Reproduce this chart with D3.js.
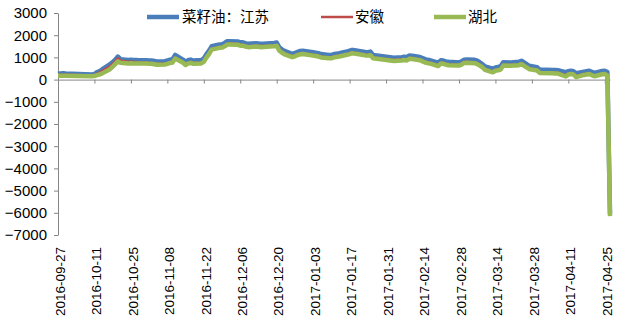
<!DOCTYPE html>
<html><head><meta charset="utf-8">
<script src="https://cdn.jsdelivr.net/npm/d3@7"></script>
<style>
html,body{margin:0;padding:0;background:#fff;}
svg{display:block;}
</style></head>
<body>
<svg id="c" width="617" height="335"></svg>
<script>
const dates = [
"2016-09-27","2016-09-28","2016-09-29","2016-09-30",
"2016-10-10","2016-10-11","2016-10-12","2016-10-13","2016-10-14","2016-10-17","2016-10-18","2016-10-19","2016-10-20","2016-10-21","2016-10-24","2016-10-25","2016-10-26","2016-10-27","2016-10-28","2016-10-31",
"2016-11-01","2016-11-02","2016-11-03","2016-11-04","2016-11-07","2016-11-08","2016-11-09","2016-11-10","2016-11-11","2016-11-14","2016-11-15","2016-11-16","2016-11-17","2016-11-18","2016-11-21","2016-11-22","2016-11-23","2016-11-24","2016-11-25","2016-11-28","2016-11-29","2016-11-30",
"2016-12-01","2016-12-02","2016-12-05","2016-12-06","2016-12-07","2016-12-08","2016-12-09","2016-12-12","2016-12-13","2016-12-14","2016-12-15","2016-12-16","2016-12-19","2016-12-20","2016-12-21","2016-12-22","2016-12-23","2016-12-26","2016-12-27","2016-12-28","2016-12-29","2016-12-30",
"2017-01-03","2017-01-04","2017-01-05","2017-01-06","2017-01-09","2017-01-10","2017-01-11","2017-01-12","2017-01-13","2017-01-16","2017-01-17","2017-01-18","2017-01-19","2017-01-20","2017-01-23","2017-01-24","2017-01-25","2017-01-26",
"2017-02-03","2017-02-06","2017-02-07","2017-02-08","2017-02-09","2017-02-10","2017-02-13","2017-02-14","2017-02-15","2017-02-16","2017-02-17","2017-02-20","2017-02-21","2017-02-22","2017-02-23","2017-02-24","2017-02-27","2017-02-28",
"2017-03-01","2017-03-02","2017-03-03","2017-03-06","2017-03-07","2017-03-08","2017-03-09","2017-03-10","2017-03-13","2017-03-14","2017-03-15","2017-03-16","2017-03-17","2017-03-20","2017-03-21","2017-03-22","2017-03-23","2017-03-24","2017-03-27","2017-03-28","2017-03-29","2017-03-30","2017-03-31",
"2017-04-05","2017-04-06","2017-04-07","2017-04-10","2017-04-11","2017-04-12","2017-04-13","2017-04-14","2017-04-17","2017-04-18","2017-04-19","2017-04-20","2017-04-21","2017-04-24","2017-04-25","2017-04-26","2017-04-27"
];
// 菜籽油：江苏
const jiangsu = [
260,280,290,280,
230,250,340,380,470,690,790,900,1040,920,880,890,880,880,870,870,
860,860,840,820,830,860,900,920,1110,900,810,880,900,860,880,950,1150,1300,1500,1580,1590,1650,
1730,1730,1720,1680,1680,1640,1610,1640,1630,1610,1620,1630,1650,1670,1450,1360,1290,1160,1200,1250,1290,1300,
1230,1210,1190,1150,1110,1110,1150,1170,1190,1270,1300,1340,1320,1300,1240,1230,1260,1110,
990,1010,1030,1010,1090,1080,1020,970,920,890,870,760,870,860,820,800,780,780,
820,900,910,890,850,780,700,590,490,550,570,600,780,770,780,790,800,850,620,600,580,560,450,
435,430,420,330,380,400,380,290,360,380,400,350,300,390,400,340,-6050
];
// 安徽
const anhui = [
210,215,220,215,
190,200,270,320,400,600,700,820,960,850,800,800,790,790,780,770,
750,750,730,710,720,750,790,810,990,800,700,770,790,750,770,840,1030,1190,1390,1470,1480,1540,
1620,1620,1610,1570,1570,1530,1500,1530,1520,1500,1510,1520,1540,1560,1340,1250,1180,1050,1090,1140,1180,1190,
1120,1100,1080,1040,1000,1000,1040,1060,1080,1160,1190,1230,1210,1190,1130,1120,1140,1000,
880,900,920,900,980,970,910,860,810,780,760,650,760,750,710,690,670,670,
710,790,800,780,740,670,590,480,370,440,460,490,670,660,670,680,690,740,510,490,470,450,340,
325,320,310,200,270,290,270,170,250,270,290,240,190,280,290,230,-6100
];
// 湖北
const hubei = [
170,170,175,175,
150,160,200,230,280,470,580,700,820,760,730,740,730,730,720,720,
710,710,690,670,680,710,750,770,950,760,660,730,750,710,730,800,990,1150,1350,1430,1440,1500,
1580,1580,1570,1530,1530,1490,1460,1490,1480,1460,1470,1480,1500,1520,1300,1210,1140,1010,1050,1100,1140,1150,
1080,1060,1040,1000,960,960,1000,1020,1040,1120,1150,1190,1170,1150,1090,1080,1100,960,
840,860,880,860,940,930,870,820,770,740,720,610,720,710,670,650,630,630,
670,750,760,740,700,630,550,440,330,400,420,450,630,620,630,640,650,700,470,450,430,410,300,
285,280,270,140,230,250,230,110,210,230,250,200,150,240,250,190,-6150
];
const seriesNames = ["菜籽油：江苏","安徽","湖北"];
const seriesColors = ["#4a7ebb","#be4b48","#98b954"];
const yTicks = [3000,2000,1000,0,-1000,-2000,-3000,-4000,-5000,-6000,-7000];
const xTickLabels = ["2016-09-27","2016-10-11","2016-10-25","2016-11-08","2016-11-22","2016-12-06","2016-12-20","2017-01-03","2017-01-17","2017-01-31","2017-02-14","2017-02-28","2017-03-14","2017-03-28","2017-04-11","2017-04-25"];

const parse = d3.utcParse("%Y-%m-%d");
const svg = d3.select("#c");
svg.append("rect").attr("width",617).attr("height",335).attr("fill","#fff");

const x = d3.scaleUtc().domain([parse(dates[0]), parse(dates[dates.length-1])]).range([58, 610]);
const y = d3.scaleLinear().domain([-7000, 3000]).range([235, 13]);
const axisColor = "#868686";
const font = "'Liberation Sans', Arial, sans-serif";

// Y axis
const ya = svg.append("g").attr("transform","translate(58,0)")
  .call(d3.axisLeft(y).tickValues(yTicks).tickSize(4).tickSizeOuter(0).tickPadding(7).tickFormat(d3.format("d")));
ya.select(".domain").attr("stroke",axisColor);
ya.selectAll(".tick line").attr("stroke",axisColor);
ya.selectAll(".tick text").attr("fill","#000").style("font-family",font).style("font-size","15px");

// X axis at zero line
const tickDates = xTickLabels.map(parse);
const xa = svg.append("g").attr("transform",`translate(0,${y(0)})`)
  .call(d3.axisBottom(x).tickValues(tickDates).tickSize(4).tickSizeOuter(0).tickFormat(""));
xa.select(".domain").attr("stroke",axisColor);
xa.selectAll(".tick line").attr("stroke",axisColor);

// X labels at bottom
svg.append("g").selectAll("text").data(tickDates).join("text")
  .attr("transform", d => `translate(${x(d)+2},247) rotate(-90)`)
  .attr("dy","0.35em")
  .attr("text-anchor","end")
  .style("font-family",font).style("font-size","13.5px").attr("fill","#000")
  .text((d,i) => xTickLabels[i]);

// Lines
const pts = dates.map(parse);
const line = d3.line().x((d,i)=>x(pts[i])).y(d=>y(d));
const allSeries = [jiangsu, anhui, hubei];
const widths = [4.5, 2.5, 4.5];
allSeries.forEach((s,k) => {
  svg.append("path").datum(s).attr("d", line)
    .attr("fill","none").attr("stroke",seriesColors[k])
    .attr("stroke-width",widths[k]).attr("stroke-linejoin","round");
});

// Legend
const legend = [
  {lx:147, tx:182},
  {lx:321, tx:355},
  {lx:434, tx:468}
];
legend.forEach((p,k) => {
  svg.append("line").attr("x1",p.lx).attr("x2",p.lx+32).attr("y1",17).attr("y2",17)
    .attr("stroke",seriesColors[k]).attr("stroke-width",widths[k]);
  svg.append("text").attr("x",p.tx).attr("y",17).attr("dy","0.35em")
    .style("font-family","'Noto Sans CJK SC', sans-serif").style("font-size","14.5px").attr("fill","#000")
    .text(seriesNames[k]);
});
</script>
</body></html>
